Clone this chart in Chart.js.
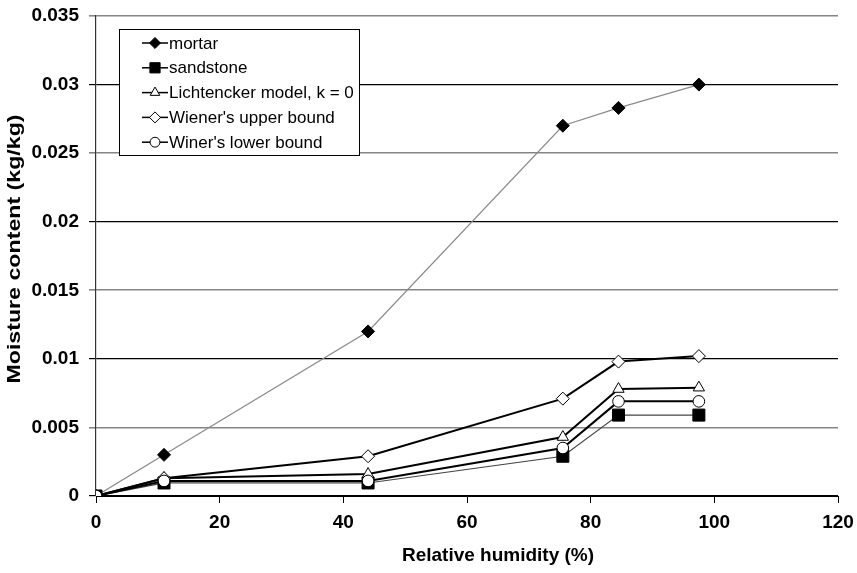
<!DOCTYPE html>
<html>
<head>
<meta charset="utf-8">
<script src="https://cdn.jsdelivr.net/npm/chart.js@4.4.1/dist/chart.umd.min.js"></script>
<style>
  html, body { margin: 0; padding: 0; background: #fff; }
  #canvas_div { width: 857px; height: 573px; }
</style>
</head>
<body>
<div id="canvas_div"><canvas id="myChart" width="857" height="573"></canvas></div>
<script>
const humidity = [0, 11, 44, 75.5, 84.5, 97.5];

const mortar = [0, 0.003, 0.012, 0.027, 0.0283, 0.030];
const sandstone = [0, 0.00095, 0.00095, 0.0029, 0.0059, 0.0059];
const lichtenecker = [0, 0.0013, 0.0016, 0.0043, 0.0078, 0.0079];
const upperBound = [0, 0.0013, 0.0029, 0.0071, 0.0098, 0.0102];
const lowerBound = [0, 0.0011, 0.0011, 0.0035, 0.0069, 0.0069];

const seriesLabels = [
  "mortar",
  "sandstone",
  "Lichtencker model, k = 0",
  "Wiener's upper bound",
  "Winer's lower bound",
];

const xTicks = [0, 20, 40, 60, 80, 100, 120];
const yTicks = [0, 0.005, 0.01, 0.015, 0.02, 0.025, 0.03, 0.035];

const xTitle = "Relative humidity (%)";
const yTitle = "Moisture content (kg/kg)";

const toPoints = (values) => values.map((v, i) => ({ x: humidity[i], y: v }));

const datasets = [
  {
    label: seriesLabels[0],
    data: toPoints(mortar),
    borderColor: "#8a8a8a",
    borderWidth: 1.2,
    pointStyle: "rectRot",
    pointRadius: 6.5,
    pointBackgroundColor: "#000",
    pointBorderColor: "#000",
    pointBorderWidth: 1,
    order: 5,
  },
  {
    label: seriesLabels[1],
    data: toPoints(sandstone),
    borderColor: "#444",
    borderWidth: 1.2,
    pointStyle: "rect",
    pointRadius: 8.5,
    pointBackgroundColor: "#000",
    pointBorderColor: "#000",
    pointBorderWidth: 1,
    order: 4,
  },
  {
    label: seriesLabels[2],
    data: toPoints(lichtenecker),
    borderColor: "#000",
    borderWidth: 2,
    pointStyle: "triangle",
    pointRadius: 6.5,
    pointBackgroundColor: "#fff",
    pointBorderColor: "#000",
    pointBorderWidth: 1,
    order: 3,
  },
  {
    label: seriesLabels[3],
    data: toPoints(upperBound),
    borderColor: "#000",
    borderWidth: 2,
    pointStyle: "rectRot",
    pointRadius: 6.5,
    pointBackgroundColor: "#fff",
    pointBorderColor: "#000",
    pointBorderWidth: 1,
    order: 2,
  },
  {
    label: seriesLabels[4],
    data: toPoints(lowerBound),
    borderColor: "#000",
    borderWidth: 2,
    pointStyle: "circle",
    pointRadius: 5.8,
    pointBackgroundColor: "#fff",
    pointBorderColor: "#000",
    pointBorderWidth: 1,
    order: 1,
  },
];

// legend box drawn inside the plot, like the original
const boxLegend = {
  id: "boxLegend",
  afterDatasetsDraw(chart) {
    const ctx = chart.ctx;
    const left = 119, top = 29, width = 240, height = 126;
    ctx.save();
    ctx.fillStyle = "#fff";
    ctx.fillRect(left, top, width, height);
    ctx.strokeStyle = "#000";
    ctx.lineWidth = 1;
    ctx.strokeRect(left + 0.5, top + 0.5, width, height);

    ctx.font = '17px "Liberation Sans", Arial, sans-serif';
    ctx.textBaseline = "middle";
    ctx.textAlign = "left";
    chart.data.datasets.forEach((ds, i) => {
      const y = 43 + i * 24.8;
      ctx.strokeStyle = "#000";
      ctx.lineWidth = 1.5;
      ctx.beginPath();
      ctx.moveTo(142, y);
      ctx.lineTo(168, y);
      ctx.stroke();
      const opts = {
        pointStyle: ds.pointStyle,
        radius: ds.pointRadius * 0.85,
        rotation: 0,
        borderWidth: 1,
      };
      ctx.fillStyle = ds.pointBackgroundColor;
      ctx.strokeStyle = ds.pointBorderColor;
      ctx.lineWidth = 1;
      if (Chart.helpers && Chart.helpers.drawPoint) {
        Chart.helpers.drawPoint(ctx, opts, 155, y);
      }
      ctx.fillStyle = "#000";
      ctx.fillText(ds.label, 169, y + 1);
    });
    ctx.restore();
  },
};

// axis titles, placed where the original has them
const axisTitles = {
  id: "axisTitles",
  afterDraw(chart) {
    const ctx = chart.ctx;
    ctx.save();
    ctx.fillStyle = "#000";
    ctx.font = 'bold 19px "Liberation Sans", Arial, sans-serif';
    ctx.textAlign = "center";
    ctx.textBaseline = "middle";
    ctx.fillText(xTitle, 498, 556);

    ctx.translate(15, 249);
    ctx.rotate(-Math.PI / 2);
    ctx.scale(1.22, 1);
    ctx.font = 'bold 19px "Liberation Sans", Arial, sans-serif';
    ctx.fillText(yTitle, 0, 0);
    ctx.restore();
  },
};

const config = {
  type: "line",
  data: { datasets: datasets },
  options: {
    responsive: false,
    animation: false,
    layout: { padding: { top: 16, right: 19, left: 0, bottom: 0 } },
    plugins: {
      legend: { display: false },
      tooltip: { enabled: false },
    },
    scales: {
      x: {
        type: "linear",
        min: 0,
        max: 120,
        afterBuildTicks: (scale) => {
          scale.ticks = xTicks.map((v) => ({ value: v }));
        },
        afterFit: (scale) => {
          scale.height = 77;
          scale.paddingLeft = 0;
          scale.paddingRight = 0;
        },
        grid: {
          drawOnChartArea: false,
          drawTicks: true,
          tickLength: 7,
          color: "#000",
        },
        border: { display: true, color: "#000", width: 1 },
        ticks: {
          color: "#000",
          padding: 8,
          font: { family: '"Liberation Sans", Arial, sans-serif', size: 19, weight: "bold" },
        },
      },
      y: {
        type: "linear",
        min: 0,
        max: 0.035,
        afterBuildTicks: (scale) => {
          scale.ticks = yTicks.map((v) => ({ value: v }));
        },
        afterFit: (scale) => {
          scale.width = 96;
          scale.paddingTop = 0;
          scale.paddingBottom = 0;
        },
        grid: {
          drawTicks: true,
          tickLength: 7,
          color: (c) => {
            const i = Math.round((c.tick ? c.tick.value : 0) / 0.005);
            return i % 2 === 1 ? "#858585" : "#000";
          },
          lineWidth: (c) => {
            const i = Math.round((c.tick ? c.tick.value : 0) / 0.005);
            return i % 2 === 1 ? 1.6 : 1.2;
          },
        },
        border: { display: true, color: "#333", width: 1.2 },
        ticks: {
          color: "#000",
          padding: 10,
          font: { family: '"Liberation Sans", Arial, sans-serif', size: 19, weight: "bold" },
          callback: (v) => String(Number(v.toFixed(3))),
        },
      },
    },
  },
  plugins: [boxLegend, axisTitles],
};

const myChart = new Chart(document.getElementById("myChart"), config);
</script>
</body>
</html>
